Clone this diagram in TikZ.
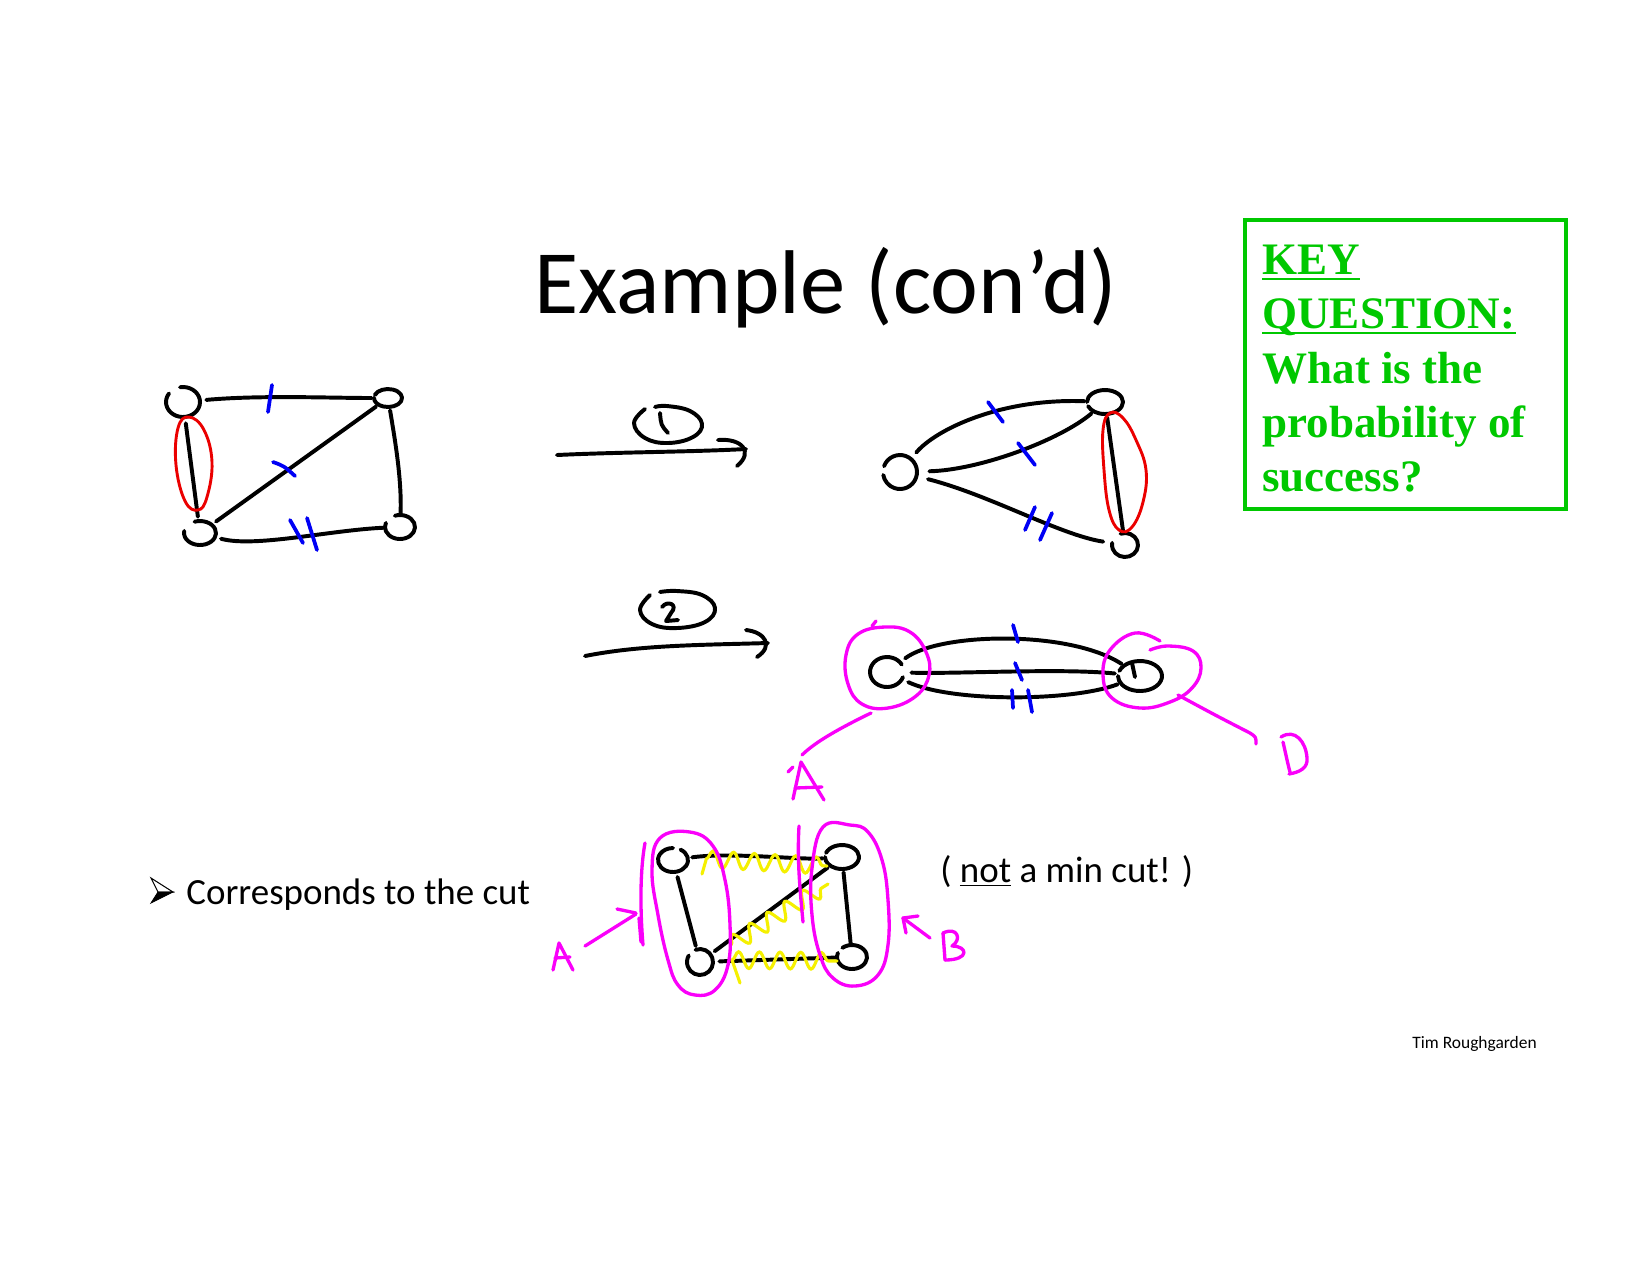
\documentclass[tikz,border=0pt]{standalone}
\usepackage{fontspec}
\setmainfont{Carlito}
\newfontfamily\keyfont{Liberation Serif}
\usetikzlibrary{shapes.geometric,decorations.pathmorphing}

\definecolor{inkblue}{RGB}{0,0,245}
\definecolor{inkred}{RGB}{235,0,0}
\definecolor{inkpink}{RGB}{250,0,250}
\definecolor{inkyellow}{RGB}{245,240,0}
\definecolor{keygreen}{RGB}{0,200,0}

\tikzset{
  ink/.style={line width=1.9pt, line cap=round, line join=round},
  tick/.style={draw=inkblue, line width=1.8pt, line cap=round},
  redloop/.style={draw=inkred, line width=1.4pt},
  pen/.style={draw=inkpink, line width=1.6pt, line cap=round, line join=round},
  wave/.style={draw=inkyellow, line width=1.5pt, line cap=round,
    decorate, decoration={snake, amplitude=4pt, segment length=10pt}},
  yline/.style={draw=inkyellow, line width=1.5pt, line cap=round},
  vtx/.style 2 args={ellipse, inner sep=0pt,
    minimum width=#1*0.4818pt, minimum height=#2*0.4818pt},
  keyline/.style={anchor=base west, inner sep=0pt, text=keygreen,
    font=\keyfont\bfseries\fontsize{21.7pt}{26pt}\selectfont},
  slide/.style={anchor=base west, inner sep=0pt,
    font=\fontsize{17.8pt}{21pt}\selectfont},
}

% hand-drawn vertex: open elliptic loop around a named node
% #1 node, #2 start angle, #3 sweep, #4 x radius, #5 y radius
\newcommand\vcurl[5]{\draw[ink] (#1) ++(#2:#4 and #5)
  arc[start angle=#2, delta angle=#3, x radius=#4, y radius=#5];}

\begin{document}
\begin{tikzpicture}[x=0.4818pt, y=-0.4818pt]
\useasboundingbox[fill=white] (0,0) rectangle (1650,1275);

% ---------- title ----------
\node[anchor=base, inner sep=0pt] (title) at (826,313)
  {\fontsize{43.6pt}{50pt}\selectfont Example (con’d)};

% ---------- key question box ----------
\draw[draw=keygreen, line width=1.7pt] (1245,220) rectangle (1566,509);
\node[keyline] (key1) at (1262,274) {KEY};
\node[keyline] (key2) at (1262,328) {QUESTION:};
\node[keyline] (key3) at (1262,383) {What is the};
\node[keyline] (key4) at (1262,437) {probability of};
\node[keyline] (key5) at (1262,491) {success?};
\draw[keygreen, line width=1.2pt] ([yshift=-2.4pt]key1.base west) -- ([yshift=-2.4pt]key1.base east);
\draw[keygreen, line width=1.2pt] ([yshift=-2.4pt]key2.base west) -- ([yshift=-2.4pt]key2.base east);

% ---------- graph 1: original four-vertex graph ----------
\node[vtx={46}{42}] (g1tl) at (183,402) {};
\node[vtx={32}{24}] (g1tr) at (388,398) {};
\node[vtx={44}{32}] (g1bl) at (200,533) {};
\node[vtx={30}{24}] (g1br) at (400,527) {};
\vcurl{g1tl}{260}{315}{17}{15}
\vcurl{g1tr}{200}{340}{14}{9}
\vcurl{g1bl}{250}{300}{16}{12}
\vcurl{g1br}{250}{310}{15}{12}
\draw[ink] (g1tl) .. controls (260,395) and (330,398) .. (g1tr);
\draw[ink] (g1tl) -- (g1bl);
\draw[ink] (g1tr) -- (g1bl);
\draw[ink] (g1tr) .. controls (395,440) and (402,480) .. (g1br);
\draw[ink] (g1bl) .. controls (255,548) and (330,530) .. (g1br);
\draw[tick] (272,385) -- (268,412);
\draw[tick] (273,462) .. controls (284,466) .. (295,476);
\draw[tick] (290,520) -- (303,543);
\draw[tick] (307,518) -- (317,550);
\draw[redloop] plot[smooth cycle, tension=0.7] coordinates
  {(189,417) (204,430) (212,462) (207,497) (198,510) (185,501) (176,465) (178,428)};

% ---------- step 1 arrow ----------
\coordinate (a1s) at (557,455);
\coordinate (a1e) at (746,449);
\draw[ink] (a1s) .. controls (620,452) and (690,452) .. (a1e);
\draw[ink] (718,440) .. controls (742,438) and (754,452) .. (737,466);
\draw[ink] plot[smooth, tension=0.7] coordinates
  {(645,409) (634,423) (645,438) (668,443) (693,437) (702,424) (690,411) (667,406) (655,407)};
\draw[ink] (660,413) .. controls (661,425) .. (668,433);

% ---------- graph 2: after the first contraction ----------
\node[vtx={58}{46}] (g2l) at (900,472) {};
\node[vtx={40}{30}] (g2tr) at (1105,402) {};
\node[vtx={44}{28}] (g2br) at (1125,545) {};
\vcurl{g2l}{200}{330}{17}{17}
\vcurl{g2tr}{180}{340}{18}{12}
\vcurl{g2br}{250}{300}{13}{12}
\draw[ink] (g2l) .. controls (935,430) and (1000,398) .. (g2tr);
\draw[ink] (g2l) .. controls (980,470) and (1060,440) .. (g2tr);
\draw[ink] (g2l) .. controls (990,495) and (1060,535) .. (g2br);
\draw[ink] (g2tr) -- (g2br);
\draw[tick] (988,402) -- (1003,422);
\draw[tick] (1018,443) -- (1035,465);
\draw[tick] (1035,507) -- (1025,530);
\draw[tick] (1052,513) -- (1040,540);
\draw[redloop] plot[smooth cycle, tension=0.7] coordinates
  {(1110,413) (1123,418) (1136,440) (1146,470) (1143,502) (1132,527) (1119,530) (1109,510) (1104,470) (1103,430)};

% ---------- step 2 arrow ----------
\coordinate (a2s) at (585,656);
\coordinate (a2e) at (768,643);
\draw[ink] (a2s) .. controls (640,645) and (700,645) .. (a2e);
\draw[ink] (746,630) .. controls (765,632) and (774,646) .. (757,657);
\draw[ink] plot[smooth, tension=0.7] coordinates
  {(650,595) (640,610) (652,624) (677,628) (705,622) (715,608) (702,595) (677,591) (660,592)};
\draw[ink] (662,607) .. controls (667,600) and (679,604) .. (671,613) -- (666,621) -- (678,620);

% ---------- graph 3: two super-vertices ----------
\node[vtx={48}{40}] (g3l) at (887,672) {};
\node[vtx={50}{34}] (g3r) at (1140,676) {};
\vcurl{g3l}{20}{310}{17}{15}
\vcurl{g3r}{200}{340}{22}{15}
\draw[ink] (1132,663) -- (1135,677);
\draw[ink] (g3l) .. controls (940,632) and (1070,630) .. (g3r);
\draw[ink] (g3l) .. controls (960,674) and (1060,668) .. (g3r);
\draw[ink] (g3l) .. controls (950,702) and (1070,702) .. (g3r);
\draw[tick] (1013,625) -- (1018,642);
\draw[tick] (1015,663) -- (1022,680);
\draw[tick] (1012,690) -- (1013,708);
\draw[tick] (1028,690) -- (1032,712);
\draw[pen] plot[smooth cycle, tension=0.7] coordinates
  {(885,627) (910,632) (926,652) (929,675) (916,696) (888,708) (862,704) (848,684) (846,655) (858,634)};
\draw[pen] (872,626) -- (876,621);
\draw[pen] plot[smooth, tension=0.7] coordinates
  {(1160,641) (1135,633) (1110,650) (1103,675) (1112,698) (1140,708) (1170,702) (1192,688) (1201,668) (1193,651) (1168,646) (1150,650)};
% pointer to the right group and its letter
\draw[pen] (1178,695) .. controls (1215,715) .. (1250,733) .. controls (1256,737) .. (1256,744);
\draw[pen] (1283,742) .. controls (1286,755) and (1288,765) .. (1290,772);
\draw[pen] (1281,737) .. controls (1295,728) and (1306,742) .. (1307,758)
  .. controls (1308,768) and (1300,772) .. (1289,774);
% pointer to the left group and its letter
\draw[pen] (871,713) .. controls (840,728) and (815,742) .. (802,755);
\draw[pen] (788,772) -- (793,767);
\draw[pen] (793,799) -- (801,762) -- (824,800);
\draw[pen] (795,788) -- (822,787);

% ---------- bullet ----------
\filldraw[line width=0.4pt] (158,892) -- (173,892) -- (151,903) -- cycle;
\draw[line width=0.5pt] (151,878) -- (173,892) -- (158,892) -- cycle;
\node[slide] (cut) at (186,904) {Corresponds to the cut};
\node[slide] (note) at (940,882) {( \underline{not} a min cut! )};

% ---------- graph 4: the cut (A, B) ----------
\node[vtx={38}{34}] (g4tl) at (673,860) {};
\node[vtx={38}{30}] (g4tr) at (842,857) {};
\node[vtx={38}{32}] (g4bl) at (700,962) {};
\node[vtx={34}{24}] (g4br) at (852,957) {};
\vcurl{g4tl}{300}{330}{15}{12}
\vcurl{g4tr}{200}{340}{17}{12}
\vcurl{g4bl}{250}{320}{13}{13}
\vcurl{g4br}{230}{330}{15}{12}
\draw[ink] (g4tl) .. controls (730,852) and (800,860) .. (g4tr);
\draw[ink] (g4tl) -- (g4bl);
\draw[ink] (g4tr) -- (g4br);
\draw[ink] (g4bl) -- (g4br);
\draw[ink] (g4bl) -- (g4tr);
% crossing edges
\draw[yline] (702,874) -- (706,860);
\draw[wave] (706,859) -- (827,866);
\draw[wave] (731,945) -- (828,884);
\draw[yline] (740,983) -- (732,960);
\draw[wave] (732,960) -- (837,961);
% the two sides
\draw[pen] plot[smooth cycle, tension=0.7] coordinates
  {(660,838) (690,832) (713,846) (725,880) (730,925) (728,965) (715,990) (695,995) (678,985) (668,960) (658,915) (652,870)};
\draw[pen] (645,843) .. controls (640,870) and (640,910) .. (643,945);
\draw[pen] plot[smooth cycle, tension=0.7] coordinates
  {(823,827) (850,825) (868,832) (882,860) (888,900) (888,945) (878,975) (855,986) (833,978) (820,955) (812,915) (812,868)};
\draw[pen] (799,826) .. controls (797,860) and (800,890) .. (803,922);
% label A with its arrow
\draw[pen] (585,946) -- (636,914);
\draw[pen] (617,909) -- (636,913);
\draw[pen] (639,918) .. controls (640,930) .. (641,942);
\draw[pen] (553,970) -- (559,943) -- (573,970);
\draw[pen] (555,958) -- (570,957);
% label B with its arrow
\draw[pen] (930,938) -- (903,918);
\draw[pen] (903,918) -- (918,916);
\draw[pen] (903,918) -- (906,933);
\draw[pen] (943,933) -- (945,960);
\draw[pen] (943,933) .. controls (958,926) and (962,940) .. (952,946)
  .. controls (968,946) and (970,960) .. (945,960);

% ---------- footer ----------
\node[anchor=base west, inner sep=0pt] (author) at (1412,1048)
  {\fontsize{8.4pt}{10pt}\selectfont Tim Roughgarden};
\end{tikzpicture}
\end{document}
